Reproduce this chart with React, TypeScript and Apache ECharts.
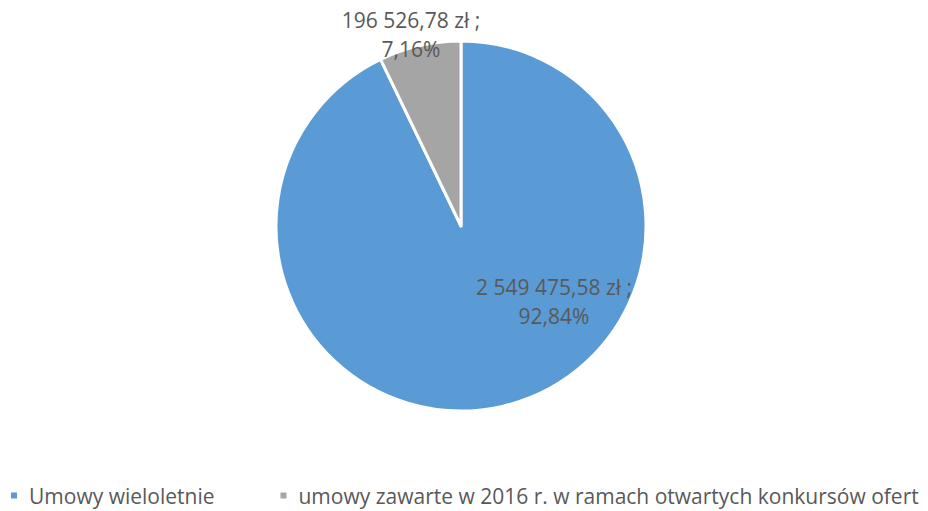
import React, { useEffect, useRef } from "react";
import * as echarts from "echarts";

const categories = [
  "Umowy wieloletnie",
  "umowy zawarte w 2016 r. w ramach otwartych konkursów ofert",
];
const values = [2549475.58, 196526.78];
const valueLabels = ["2 549 475,58 zł", "196 526,78 zł"];
const percentLabels = ["92,84%", "7,16%"];
const colors = ["#5B9BD5", "#A5A5A5"];

const FONT = "'Open Sans', 'Noto Sans', sans-serif";

export default function App() {
  const ref = useRef<HTMLDivElement>(null);
  useEffect(() => {
    if (!ref.current) return;
    const chart = echarts.init(ref.current, undefined, { renderer: "svg" });
    const labelPos = [
      { x: 554, y: 301 },
      { x: 411, y: 34 },
    ];
    chart.setOption({
      animation: false,
      backgroundColor: "#FFFFFF",
      textStyle: { fontFamily: FONT },
      legend: {
        data: categories,
        left: 4,
        bottom: 0,
        icon: "rect",
        itemWidth: 8,
        itemHeight: 8,
        itemGap: 64,
        textStyle: {
          fontSize: 21,
          color: "#595959",
          fontFamily: FONT,
          padding: [0, 0, 0, 6],
        },
      },
      series: [
        {
          type: "pie",
          center: [461, 226],
          radius: 185,
          startAngle: 90,
          clockwise: true,
          label: {
            show: true,
            position: "inside",
            formatter: (p: any) =>
              valueLabels[p.dataIndex] + " ;\n" + percentLabels[p.dataIndex],
            fontSize: 21,
            lineHeight: 29,
            color: "#595959",
            fontFamily: FONT,
            align: "center",
          },
          labelLayout: (p: any) => ({
            x: labelPos[p.dataIndex].x,
            y: labelPos[p.dataIndex].y,
            align: "center",
            verticalAlign: "middle",
          }),
          itemStyle: { borderColor: "#FFFFFF", borderWidth: 3 },
          emphasis: { disabled: true },
          data: categories.map((name, i) => ({
            name,
            value: values[i],
            itemStyle: { color: colors[i] },
          })),
        },
      ],
    });
    return () => chart.dispose();
  }, []);
  return (
    <div
      ref={ref}
      style={{ position: "fixed", left: 0, top: 0, width: 928, height: 511 }}
    />
  );
}
